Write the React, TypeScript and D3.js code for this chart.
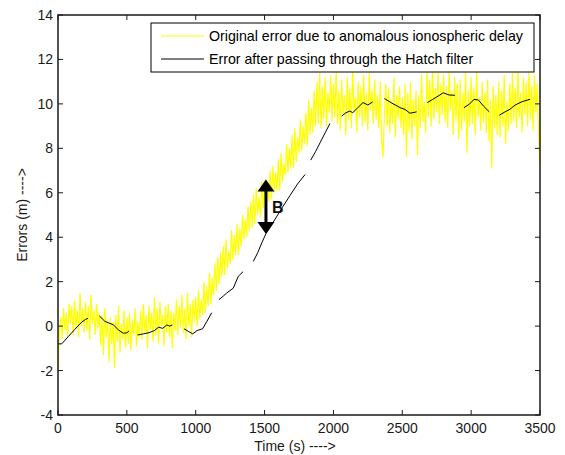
import React from 'react';
import * as d3 from 'd3';

// chart values
const xTicks = [0, 500, 1000, 1500, 2000, 2500, 3000, 3500];
const yTicks = [-4, -2, 0, 2, 4, 6, 8, 10, 12, 14];

// original error (yellow), one sample every 10 s from t = 0 to 3500
const yellowStep = 10;
const yellowValues = [
  -2.1, -0.3, 0.4, -0.6, 0.8, -0.2, 0.6, -0.5, 1.0, 0.1,
  0.9, -0.4, 1.2, -0.1, 0.7, -0.5, 1.5, 0.0, 0.8, -0.3,
  1.1, -0.2, 0.9, -0.6, 1.4, 0.1, 0.7, -0.4, 1.0, -0.1,
  0.6, -0.9, 0.5, -1.3, 0.8, -0.5, 0.3, -1.6, 0.4, -0.8,
  0.2, -1.9, 0.5, -0.7, 0.9, -1.2, 0.1, -0.6, 0.7, -1.0,
  0.4, -0.8, 0.6, -1.1, 0.3, -0.4, 0.8, -0.9, 0.2, -0.5,
  0.7, -0.6, 1.0, -0.3, 0.5, -1.0, 0.9, -0.2, 0.6, -0.7,
  1.3, -0.4, 0.8, -0.8, 1.1, 0.0, 0.5, -0.9, 0.9, -0.3,
  1.0, -0.5, 0.7, -1.0, 0.6, -0.2, 1.2, -0.4, 0.9, -0.1,
  1.4, -0.3, 0.8, -0.6, 1.5, 0.0, 1.0, -0.5, 1.2, 0.2,
  1.3, 0.0, 1.6, 0.3, 1.2, 0.5, 2.0, 0.6, 1.8, 0.9,
  2.4, 1.0, 2.2, 1.4, 2.8, 1.6, 3.1, 1.9, 3.3, 2.2,
  3.6, 2.3, 3.9, 2.6, 3.4, 2.8, 4.3, 3.0, 4.1, 3.2,
  4.6, 3.2, 4.4, 3.6, 5.0, 3.9, 4.8, 4.0, 5.4, 4.3,
  5.6, 4.4, 5.9, 4.6, 6.2, 5.0, 5.8, 4.9, 6.5, 5.3,
  6.6, 5.2, 6.3, 5.6, 7.0, 5.7, 7.2, 6.0, 6.9, 6.1,
  7.5, 6.1, 7.8, 6.5, 7.3, 6.8, 8.2, 6.9, 8.0, 7.1,
  8.6, 7.1, 8.9, 7.4, 8.5, 7.8, 9.3, 7.9, 9.0, 8.2,
  9.6, 8.1, 10.2, 8.6, 9.8, 8.7, 10.6, 9.0, 11.0, 9.1,
  11.4, 8.9, 10.8, 9.3, 11.2, 9.0, 10.5, 9.6, 11.3, 9.2,
  10.9, 9.4, 11.5, 9.1, 10.6, 8.8, 11.1, 9.5, 10.4, 8.6,
  11.2, 9.3, 10.7, 8.9, 11.6, 9.6, 10.3, 8.7, 11.0, 9.4,
  10.8, 9.0, 11.3, 9.2, 10.5, 8.8, 11.4, 9.7, 10.6, 9.1,
  11.1, 9.3, 10.4, 8.9, 11.0, 8.4, 7.6, 9.5, 10.9, 9.0,
  10.7, 8.7, 10.2, 9.1, 11.2, 8.5, 10.4, 9.3, 10.8, 8.9,
  10.3, 8.6, 10.9, 7.6, 10.5, 8.8, 11.0, 8.4, 10.2, 9.0,
  10.6, 7.7, 10.4, 8.9, 11.3, 9.2, 10.1, 8.7, 11.5, 9.4,
  11.1, 9.0, 11.6, 9.3, 10.7, 9.6, 11.4, 9.1, 10.9, 9.5,
  11.3, 9.2, 10.8, 8.9, 11.5, 9.7, 10.6, 8.6, 11.2, 9.3,
  10.9, 8.4, 11.1, 8.8, 10.5, 9.2, 11.4, 7.8, 10.6, 9.0,
  11.2, 9.1, 10.7, 8.6, 11.5, 9.4, 10.3, 8.8, 11.0, 9.2,
  10.5, 8.7, 11.1, 8.3, 10.2, 7.1, 10.8, 8.9, 10.4, 8.6,
  11.0, 8.5, 10.6, 9.0, 11.3, 8.2, 10.1, 8.8, 10.9, 9.1,
  11.4, 9.2, 10.7, 8.9, 11.6, 9.4, 10.5, 8.7, 11.2, 9.5,
  11.0, 9.0, 11.5, 9.3, 10.8, 8.8, 11.3, 9.6, 10.9, 8.5,
  7.3,
];

// error after the Hatch filter (black), broken into pieces: [time, error]
const hatchSegments: [number, number][][] = [
  [[0, -0.8], [27, -0.8], [75, -0.47], [123, -0.14], [172, 0.18], [200, 0.3], [218, 0.35]],
  [[300, 0.46], [341, 0.21], [402, 0.06], [438, -0.17], [474, -0.32], [500, -0.3], [515, -0.22]],
  [[578, -0.4], [620, -0.35], [660, -0.3], [700, -0.2], [730, -0.05], [760, -0.1], [790, 0.05], [810, 0.0], [830, 0.05]],
  [[915, -0.12], [950, -0.25], [978, -0.35], [1010, -0.2], [1050, -0.12], [1080, 0.2], [1116, 0.6]],
  [[1169, 1.19], [1200, 1.35], [1225, 1.49], [1273, 1.71], [1309, 2.24], [1344, 2.45]],
  [[1418, 2.91], [1450, 3.3], [1480, 3.75], [1510, 4.16], [1550, 4.55], [1590, 4.95], [1630, 5.35], [1685, 5.88], [1740, 6.4], [1794, 6.82]],
  [[1835, 7.47], [1870, 7.85], [1903, 8.25], [1940, 8.7], [1975, 9.12]],
  [[2060, 9.45], [2090, 9.6], [2120, 9.68], [2140, 9.6], [2180, 9.85], [2215, 10.06], [2250, 9.95], [2285, 10.09]],
  [[2370, 10.24], [2420, 10.05], [2484, 9.83], [2520, 9.75], [2556, 9.58], [2604, 9.64]],
  [[2682, 10.06], [2720, 10.2], [2760, 10.35], [2798, 10.5], [2840, 10.4], [2883, 10.39]],
  [[2948, 9.83], [2990, 10.0], [3020, 10.2], [3052, 10.18], [3090, 9.9], [3132, 9.64]],
  [[3205, 9.49], [3240, 9.62], [3282, 9.76], [3320, 9.95], [3370, 10.1], [3428, 10.21]],
];

const legendLabels = [
  'Original error due to anomalous ionospheric delay',
  'Error after passing through the Hatch filter',
];
const seriesColors = ['#ffff00', '#000000'];

// "B" marker: time and the two error levels it spans
const arrowTime = 1510;
const arrowTop = 6.6;
const arrowBottom = 4.15;
const arrowLabel = 'B';

const W = 565;
const H = 455;
const plot = { left: 58, right: 540, top: 15, bottom: 415 };
const font = 'Arial, "Liberation Sans", Helvetica, sans-serif';

export default function App() {
  const x = d3.scaleLinear().domain([0, 3500]).range([plot.left, plot.right]);
  const y = d3.scaleLinear().domain([-4, 14]).range([plot.bottom, plot.top]);

  const line = d3.line<[number, number]>()
    .x(d => x(d[0]))
    .y(d => y(d[1]));

  const yellowPts: [number, number][] = yellowValues.map((v, i) => [i * yellowStep, v]);

  const tickLen = 5;
  const ax = x(arrowTime);
  const aTop = y(arrowTop);
  const aBot = y(arrowBottom);
  const head = 12;
  const halfW = 8.5;

  return (
    <svg width={W} height={H} style={{ position: 'absolute', left: 0, top: 0, background: '#fff' }}
      fontFamily={font}>
      <rect x={0} y={0} width={W} height={H} fill="#fff" />

      {/* data */}
      <path d={line(yellowPts) || ''} fill="none" stroke={seriesColors[0]} strokeWidth={1.2} />
      {hatchSegments.map((seg, i) => (
        <path key={i} d={line(seg) || ''} fill="none" stroke={seriesColors[1]} strokeWidth={1} />
      ))}

      {/* B arrow */}
      <line x1={ax} x2={ax} y1={aTop + head - 1} y2={aBot - head + 1} stroke="#000" strokeWidth={3} />
      <path d={`M${ax},${aTop} L${ax - halfW},${aTop + head} L${ax + halfW},${aTop + head} Z`} fill="#000" />
      <path d={`M${ax},${aBot} L${ax - halfW},${aBot - head} L${ax + halfW},${aBot - head} Z`} fill="#000" />
      <text x={ax + 6} y={(aTop + aBot) / 2 + 6} fontSize={16} fontWeight="bold" fill="#111">{arrowLabel}</text>

      {/* axes frame and ticks */}
      <rect x={plot.left} y={plot.top} width={plot.right - plot.left} height={plot.bottom - plot.top}
        fill="none" stroke="#1a1a1a" strokeWidth={1.5} />
      {xTicks.map(t => (
        <g key={'x' + t}>
          <line x1={x(t)} x2={x(t)} y1={plot.bottom} y2={plot.bottom - tickLen} stroke="#1a1a1a" />
          <line x1={x(t)} x2={x(t)} y1={plot.top} y2={plot.top + tickLen} stroke="#1a1a1a" />
          <text x={x(t)} y={plot.bottom + 18} fontSize={14} textAnchor="middle" fill="#1a1a1a">{t}</text>
        </g>
      ))}
      {yTicks.map(t => (
        <g key={'y' + t}>
          <line x1={plot.left} x2={plot.left + tickLen} y1={y(t)} y2={y(t)} stroke="#1a1a1a" />
          <line x1={plot.right} x2={plot.right - tickLen} y1={y(t)} y2={y(t)} stroke="#1a1a1a" />
          <text x={plot.left - 5} y={y(t) + 5} fontSize={14} textAnchor="end" fill="#1a1a1a">{t}</text>
        </g>
      ))}

      {/* axis labels */}
      <text x={295} y={451} fontSize={14} textAnchor="middle" fill="#1a1a1a">Time (s) ----&gt;</text>
      <text transform={`translate(27,${(plot.top + plot.bottom) / 2}) rotate(-90)`} fontSize={14}
        textAnchor="middle" fill="#1a1a1a">Errors (m) ----&gt;</text>

      {/* legend */}
      <rect x={151} y={23} width={383} height={49} fill="#fff" stroke="#000" strokeWidth={1} />
      {legendLabels.map((lab, i) => (
        <g key={lab}>
          <line x1={161} x2={204} y1={36 + i * 23} y2={36 + i * 23} stroke={seriesColors[i]} strokeWidth={1} />
          <text x={209} y={41 + i * 23} fontSize={14.2} fill="#000">{lab}</text>
        </g>
      ))}
    </svg>
  );
}
